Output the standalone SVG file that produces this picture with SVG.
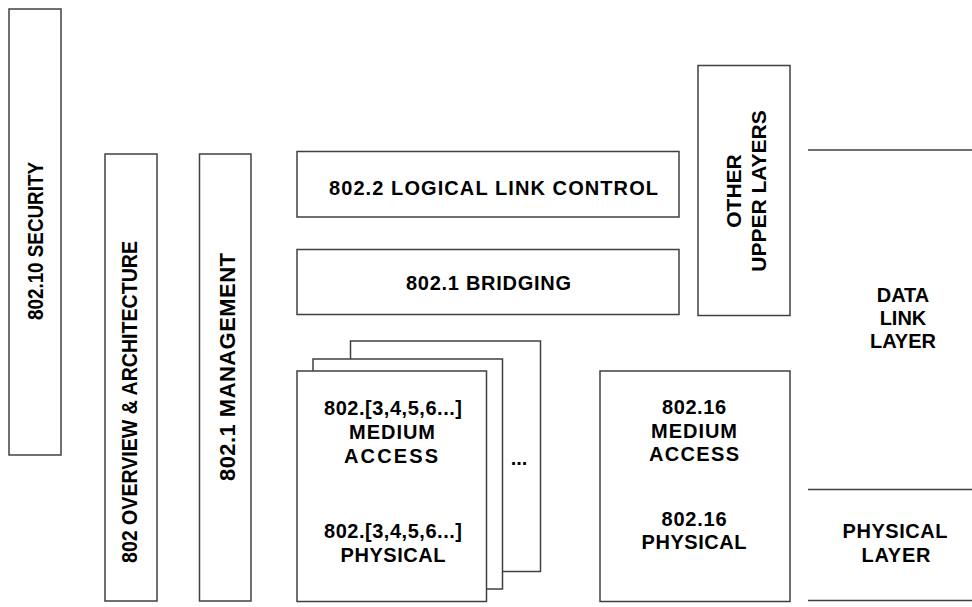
<svg xmlns="http://www.w3.org/2000/svg" width="972" height="607" viewBox="0 0 972 607">
<style>
.box{fill:#fff;stroke:#404040;stroke-width:1.5}
.ln{stroke:#404040;stroke-width:1.3;fill:none}
text{font-family:"Liberation Sans",Arial,sans-serif;font-weight:bold;font-size:20px;fill:#000}
.c{text-anchor:middle}
.v{font-size:22px}
</style>
<rect width="972" height="607" fill="#fff"/>
<g id="security">
<rect class="box" x="9" y="9" width="52" height="446"/>
<text class="v" transform="translate(43,320) rotate(-90)" textLength="158" lengthAdjust="spacingAndGlyphs">802.10 SECURITY</text>
</g>
<g id="overview">
<rect class="box" x="105" y="154" width="52" height="447"/>
<text class="v" transform="translate(137,563) rotate(-90)" textLength="322" lengthAdjust="spacingAndGlyphs">802 OVERVIEW &amp; ARCHITECTURE</text>
</g>
<g id="management">
<rect class="box" x="199.5" y="154" width="51.5" height="447"/>
<text class="v" transform="translate(235,481) rotate(-90)" textLength="228">802.1 MANAGEMENT</text>
</g>
<g id="llc">
<rect class="box" x="297" y="151.5" width="382" height="65.5"/>
<text x="329" y="195" textLength="329">802.2 LOGICAL LINK CONTROL</text>
</g>
<g id="bridging">
<rect class="box" x="297" y="249.5" width="382" height="65"/>
<text x="406" y="290" textLength="165">802.1 BRIDGING</text>
</g>
<g id="other-upper-layers">
<rect class="box" x="698" y="65.5" width="92" height="250"/>
<g transform="translate(744,191) rotate(-90)">
<text class="c" x="0" y="-3" style="font-size:21px">OTHER</text>
<text class="c" x="0" y="22" style="font-size:21px">UPPER LAYERS</text>
</g>
</g>
<g id="other-standards-stack">
<rect class="box" x="350.5" y="341" width="190" height="230.5"/>
<rect class="box" x="313" y="359" width="189.5" height="230"/>
<rect class="box" x="297" y="371" width="189.5" height="230.5"/>
<text class="c" x="393" y="415" textLength="138">802.[3,4,5,6...]</text>
<text class="c" x="392" y="439" textLength="86">MEDIUM</text>
<text class="c" x="391" y="463" textLength="94">ACCESS</text>
<text class="c" x="393" y="538" textLength="138">802.[3,4,5,6...]</text>
<text class="c" x="393" y="562" textLength="105">PHYSICAL</text>
<text class="c" x="519" y="465">...</text>
</g>
<g id="802-16">
<rect class="box" x="600" y="371" width="190" height="230.5"/>
<text class="c" x="694" y="414" textLength="64">802.16</text>
<text class="c" x="694" y="437.5" textLength="86">MEDIUM</text>
<text class="c" x="694" y="461" textLength="90">ACCESS</text>
<text class="c" x="694" y="526" textLength="65">802.16</text>
<text class="c" x="694" y="549" textLength="105">PHYSICAL</text>
</g>
<g id="connectors">
<line class="ln" x1="808" y1="150" x2="972" y2="150"/>
<line class="ln" x1="808" y1="489.5" x2="972" y2="489.5"/>
<line class="ln" x1="808" y1="600.5" x2="972" y2="600.5"/>
</g>
<g id="data-link-layer">
<text class="c" x="903" y="302">DATA</text>
<text class="c" x="903" y="325">LINK</text>
<text class="c" x="903" y="348">LAYER</text>
</g>
<g id="physical-layer">
<text class="c" x="895" y="538" textLength="105">PHYSICAL</text>
<text class="c" x="896" y="562" textLength="69">LAYER</text>
</g>
</svg>
